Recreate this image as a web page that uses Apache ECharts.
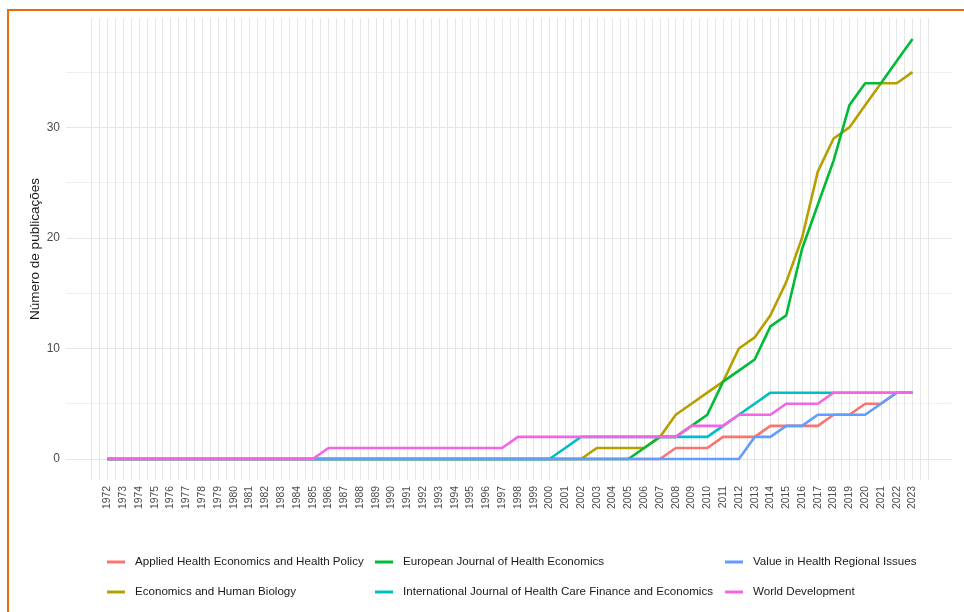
<!DOCTYPE html>
<html>
<head>
<meta charset="utf-8">
<script src="https://cdn.jsdelivr.net/npm/echarts@6/dist/echarts.min.js"></script>
<style>
  html, body { margin: 0; padding: 0; background: #fff; }
  #chart { position: absolute; left: 0; top: 0; width: 964px; height: 612px; }
  #frame {
    position: absolute; left: 7px; top: 9px; width: 970px; height: 620px;
    border-left: 2px solid #ea6a0c; border-top: 2px solid #ea6a0c;
    pointer-events: none;
  }
</style>
</head>
<body>
<div id="chart"></div>
<div id="frame"></div>
<script>
  // anos (eixo x)
  var years = [1972, 1973, 1974, 1975, 1976, 1977, 1978, 1979, 1980, 1981, 1982, 1983, 1984,
    1985, 1986, 1987, 1988, 1989, 1990, 1991, 1992, 1993, 1994, 1995, 1996, 1997, 1998,
    1999, 2000, 2001, 2002, 2003, 2004, 2005, 2006, 2007, 2008, 2009, 2010, 2011, 2012,
    2013, 2014, 2015, 2016, 2017, 2018, 2019, 2020, 2021, 2022, 2023];

  // publicações acumuladas por revista
  var applied = [0,0,0,0,0,0,0,0,0,0,0,0,0,0,0,0,0,0,0,0,0,0,0,0,0,0,0,0,0,0,0,0,0,0,0,0,
    1,1,1,2,2,2,3,3,3,3,4,4,5,5,6,6];
  var humanBiology = [0,0,0,0,0,0,0,0,0,0,0,0,0,0,0,0,0,0,0,0,0,0,0,0,0,0,0,0,0,0,0,
    1,1,1,1,2,4,5,6,7,10,11,13,16,20,26,29,30,32,34,34,35];
  var european = [0,0,0,0,0,0,0,0,0,0,0,0,0,0,0,0,0,0,0,0,0,0,0,0,0,0,0,0,0,0,0,0,0,0,
    1,2,2,3,4,7,8,9,12,13,19,23,27,32,34,34,36,38];
  var international = [0,0,0,0,0,0,0,0,0,0,0,0,0,0,0,0,0,0,0,0,0,0,0,0,0,0,0,0,0,
    1,2,2,2,2,2,2,2,2,2,3,4,5,6,6,6,6,6,6,6,6,6,6];
  var valueHealth = [0,0,0,0,0,0,0,0,0,0,0,0,0,0,0,0,0,0,0,0,0,0,0,0,0,0,0,0,0,0,0,0,0,0,0,0,0,0,0,0,0,
    2,2,3,3,4,4,4,4,5,6,6];
  var worldDev = [0,0,0,0,0,0,0,0,0,0,0,0,0,0,
    1,1,1,1,1,1,1,1,1,1,1,1,
    2,2,2,2,2,2,2,2,2,2,2,
    3,3,3,4,4,4,5,5,5,6,6,6,6,6,6];

  var names = ['Applied Health Economics and Health Policy', 'Economics and Human Biology',
    'European Journal of Health Economics', 'International Journal of Health Care Finance and Economics',
    'Value in Health Regional Issues', 'World Development'];
  var values = [applied, humanBiology, european, international, valueHealth, worldDev];
  var colors = ['#F8766D', '#B79F00', '#00BA38', '#00BFC4', '#619CFF', '#F564E3'];

  var font = 'Liberation Sans, Arial, sans-serif';

  var series = names.map(function (n, k) {
    return {
      name: n,
      type: 'line',
      xAxisIndex: 0,
      yAxisIndex: 0,
      showSymbol: false,
      symbol: 'none',
      color: colors[k],
      lineStyle: { width: 2.6, color: colors[k] },
      data: years.map(function (y, i) { return [y, values[k][i]]; })
    };
  });

  function legendCol(left, items) {
    return {
      orient: 'vertical',
      left: left,
      top: 555,
      padding: 0,
      itemWidth: 18,
      itemHeight: 3,
      itemGap: 16,
      icon: 'rect',
      data: items,
      textStyle: { fontFamily: font, fontSize: 11.6, color: '#1a1a1a', padding: [0, 0, 0, 5], lineHeight: 14 }
    };
  }

  var myChart = echarts.init(document.getElementById('chart'));
  myChart.setOption({
    animation: false,
    backgroundColor: '#fff',
    grid: [
      { left: 91.7, right: 35.7, top: 18, bottom: 132 },
      { left: 66, right: 12.3, top: 72.1, bottom: 153 }
    ],
    xAxis: [{
      type: 'value', gridIndex: 0, min: 1971, max: 2024, interval: 0.5,
      axisLine: { show: false }, axisTick: { show: false },
      splitLine: { show: true, lineStyle: { color: '#e6e6e6', width: 1 } },
      axisLabel: {
        rotate: 90, margin: 6, fontFamily: font, fontSize: 10.4, color: '#4d4d4d',
        showMinLabel: true, showMaxLabel: true,
        formatter: function (v) {
          return (v % 1 === 0 && v >= 1972 && v <= 2023) ? String(v) : '';
        }
      }
    }, {
      type: 'value', gridIndex: 1, min: 0, max: 1, show: false
    }],
    yAxis: [{
      type: 'value', gridIndex: 0, min: -1.9, max: 39.9, show: false,
      splitLine: { show: false }
    }, {
      type: 'value', gridIndex: 1, min: 0, max: 35, interval: 5,
      axisLine: { show: false }, axisTick: { show: false },
      splitLine: { show: true, lineStyle: { color: ['#e6e6e6', '#efefef'], width: 1 } },
      axisLabel: {
        margin: 6, fontFamily: font, fontSize: 12, color: '#4d4d4d',
        formatter: function (v) { return v % 10 === 0 ? String(v) : ''; }
      }
    }],
    legend: [
      legendCol(107, [names[0], names[1]]),
      legendCol(375, [names[2], names[3]]),
      legendCol(725, [names[4], names[5]])
    ],
    graphic: [{
      type: 'text',
      x: 35, y: 249,
      rotation: Math.PI / 2,
      style: {
        text: 'Número de publicações',
        fontFamily: font, fontSize: 13.5, fill: '#1a1a1a',
        align: 'center', verticalAlign: 'middle'
      }
    }],
    series: series
  });
</script>
</body>
</html>
